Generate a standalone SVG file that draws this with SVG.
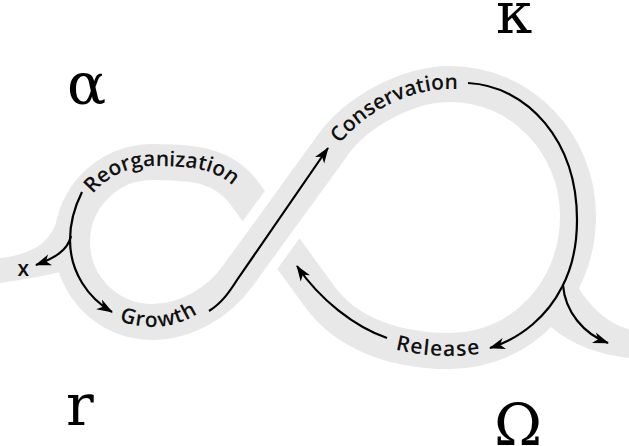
<svg xmlns="http://www.w3.org/2000/svg" width="629" height="446" viewBox="0 0 629 446">
<style>
.band{fill:none;stroke:#e8e8e8;stroke-width:36;stroke-linecap:butt;stroke-linejoin:round}
.tail{fill:#e8e8e8;stroke:none}
.gap{fill:none;stroke:#fff;stroke-width:56;stroke-linecap:butt}
.flow{fill:none;stroke:#000;stroke-width:2.2}
.arrow{marker-end:url(#ah)}
.lbl{font-family:"Open Sans","Noto Sans","DejaVu Sans",sans-serif;font-size:21px;font-weight:600;letter-spacing:1.2px;fill:#111}
.tight{letter-spacing:0}
.greek{font-family:"DejaVu Serif","Liberation Serif",serif;font-size:58px;fill:#000}
</style>
<defs>
<marker id="ah" viewBox="0 0 16 12" markerWidth="16" markerHeight="12" refX="15" refY="6" orient="auto" markerUnits="userSpaceOnUse"><path d="M16,6 L0,0.3 L4.5,6 L0,11.7 Z" fill="#000"/></marker>
<path id="pR" d="M 76,242 C 76,200 110,166 152,166 C 196,166 221,169 242,196"/>
<path id="pG" d="M 67,242 A 85 85 0 0 0 237,242"/>
<path id="pC" d="M 300,196 L 338.8,145.5 C 359,117 405,89 450,89 C 490,89 530,100 555,130"/>
<path id="pRl" d="M 316,301 C 342.5,337.5 395,356 450,356 C 490,356 520,345 545,325"/>
</defs>
<g id="band">
<path class="tail" d="M 63,200 C 58,225 50,240 35,248 C 22,255 10,257 0,258 L 0,283 C 25,279 45,276 60,272 L 80,240 Z"/>
<path class="tail" d="M 579,289 C 595,312 610,324 629,329 L 629,358 C 600,355 572,345 551,327 L 545,300 Z"/>
<path class="band" d="M 271,230 L 334.7,142.5 C 355.4,114.1 405,84 450,84 C 520.7,84 578,143 578,216 C 578,292 521,351 450,351 C 395,351 346.5,333.5 320,297 L 245,194 C 224.4,165.7 197,162 152,162 C 108,162 72,198 72,242 C 72,286 108,322 152,322 C 187,322 219.3,301.3 237,277 Z"/>
<path class="gap" d="M 246.2,264 L 295.8,196"/>
<path class="band" d="M 237,277 L 334.7,142.5"/>
</g>
<g id="connectors">
<path class="flow arrow" d="M 82,192 C 74,208 70,222 70,240 C 70,272 88,298 112,312"/>
<path class="flow arrow" d="M 71,236 C 68,250 55,258 36,265"/>
<path class="flow arrow" d="M 209,311 C 222,303 230,291 237,280 L 328,148"/>
<path class="flow" d="M 468,83 C 527,86 577,140 577,220 C 577,250 571,270 562,287"/>
<path class="flow arrow" d="M 562,287 C 548,315 522,338 490,348"/>
<path class="flow arrow" d="M 563,285 C 565,312 584,334 608,343"/>
<path class="flow arrow" d="M 387,338 C 355,327 320,300 297,266"/>
</g>
<g id="reorganization"><text class="lbl tight"><textPath href="#pR" startOffset="128" text-anchor="middle">Reorganization</textPath></text></g>
<g id="growth"><text class="lbl"><textPath href="#pG" startOffset="141" text-anchor="middle">Growth</textPath></text></g>
<g id="conservation"><text class="lbl tight"><textPath href="#pC" startOffset="133" text-anchor="middle">Conservation</textPath></text></g>
<g id="release"><text class="lbl"><textPath href="#pRl" startOffset="138" text-anchor="middle">Release</textPath></text></g>
<g id="x-node"><text class="lbl" x="24" y="276" text-anchor="middle">x</text></g>
<g id="alpha"><text class="greek" x="67" y="104">α</text></g>
<g id="kappa"><text class="greek" x="496" y="33">κ</text></g>
<g id="r"><text class="greek" x="66" y="425">r</text></g>
<g id="omega"><text class="greek" x="494" y="445">Ω</text></g>
</svg>
